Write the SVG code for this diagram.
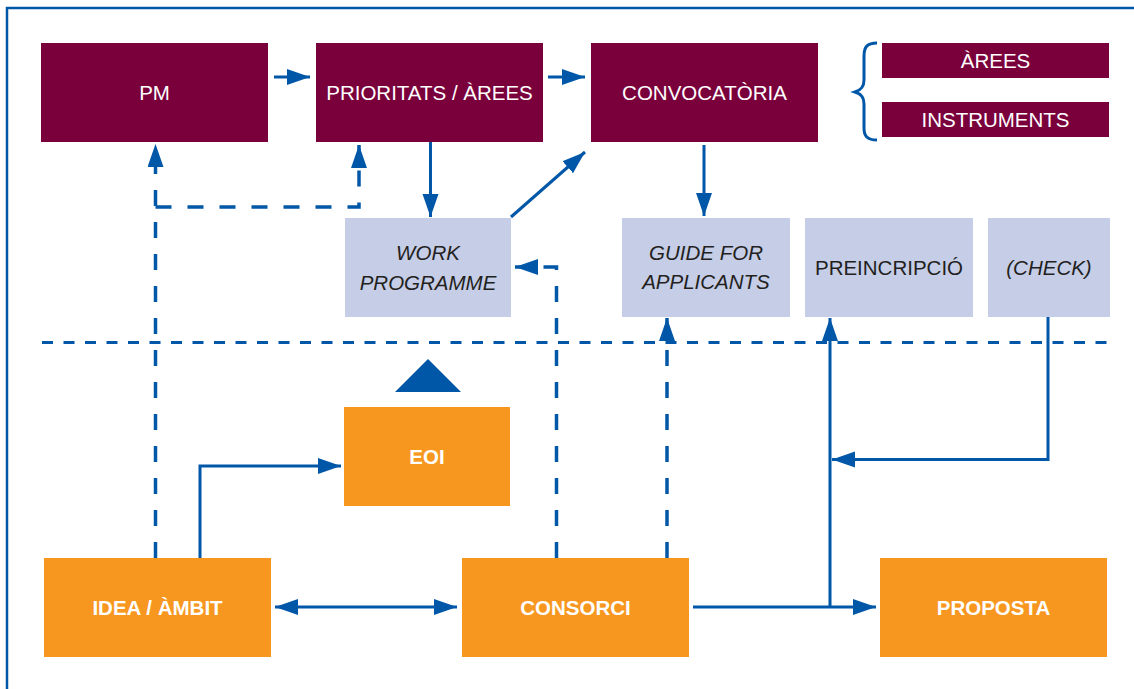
<svg xmlns="http://www.w3.org/2000/svg" width="1134" height="689" viewBox="0 0 1134 689">
  <style>
    .maroon { fill: #7a003c; }
    .lilac { fill: #c5cde7; }
    .orange { fill: #f7971f; }
    .wt { fill: #ffffff; font-family: "Liberation Sans", Arial, sans-serif; font-size: 20.5px; text-anchor: middle; }
    .bd { font-weight: bold; }
    .dk { fill: #231f20; font-family: "Liberation Sans", Arial, sans-serif; font-size: 20.5px; text-anchor: middle; }
    .it { font-style: italic; }
    .ln { fill: none; stroke: #0057a8; stroke-width: 3; }
    .dash { stroke-width: 3.5; stroke-dasharray: 16 16; }
    .divider { fill: none; stroke: #0057a8; stroke-width: 3; stroke-dasharray: 11 10.5; }
    .head { fill: #0057a8; }
  </style>
  <defs>
    <marker id="arr" markerWidth="24" markerHeight="18" refX="23" refY="8" orient="auto" markerUnits="userSpaceOnUse">
      <path d="M0,0 L23,8 L0,16 Z" class="head"/>
    </marker>
    <marker id="arrStart" markerWidth="24" markerHeight="18" refX="23" refY="8" orient="auto-start-reverse" markerUnits="userSpaceOnUse">
      <path d="M0,0 L23,8 L0,16 Z" class="head"/>
    </marker>
  </defs>

  <rect width="1134" height="689" fill="#ffffff"/>

  <!-- frame -->
  <path d="M7,690 V8 H1134" fill="none" stroke="#0057a8" stroke-width="2.5"/>

  <!-- divider between the two levels -->
  <line x1="42" y1="342.5" x2="1110" y2="342.5" class="divider"/>

  <!-- up triangle -->
  <path d="M395,392 L428,359 L461,392 Z" class="head"/>

  <!-- brace -->
  <path d="M877,43 C867,43 864,47 864,56 V80 C864,87 861,90 855,92 C861,94 864,97 864,104 V128 C864,136 867,140 877,140" fill="none" stroke="#0057a8" stroke-width="3"/>

  <g id="pm">
    <rect x="41" y="43" width="227" height="99" class="maroon"/>
    <text x="154.5" y="99.5" class="wt">PM</text>
  </g>
  <g id="prioritats">
    <rect x="316" y="43" width="227" height="99" class="maroon"/>
    <text x="429.5" y="99.5" class="wt">PRIORITATS / ÀREES</text>
  </g>
  <g id="convocatoria">
    <rect x="591" y="43" width="227" height="99" class="maroon"/>
    <text x="704.5" y="99.5" class="wt">CONVOCATÒRIA</text>
  </g>
  <g id="arees">
    <rect x="882" y="43" width="227" height="35" class="maroon"/>
    <text x="995.5" y="68" class="wt">ÀREES</text>
  </g>
  <g id="instruments">
    <rect x="882" y="102" width="227" height="35" class="maroon"/>
    <text x="995.5" y="127" class="wt">INSTRUMENTS</text>
  </g>

  <g id="work-programme">
    <rect x="345" y="218" width="166" height="99" class="lilac"/>
    <text x="428" y="260" class="dk it">WORK</text>
    <text x="428" y="290" class="dk it">PROGRAMME</text>
  </g>
  <g id="guide">
    <rect x="622" y="218" width="168" height="99" class="lilac"/>
    <text x="706" y="260" class="dk it">GUIDE FOR</text>
    <text x="706" y="289" class="dk it">APPLICANTS</text>
  </g>
  <g id="preincripcio">
    <rect x="805" y="218" width="168" height="99" class="lilac"/>
    <text x="889" y="274.5" class="dk">PREINCRIPCIÓ</text>
  </g>
  <g id="check">
    <rect x="988" y="218" width="122" height="99" class="lilac"/>
    <text x="1049" y="274.5" class="dk it">(CHECK)</text>
  </g>

  <g id="eoi">
    <rect x="344" y="407" width="166" height="99" class="orange"/>
    <text x="427" y="463.5" class="wt bd">EOI</text>
  </g>
  <g id="idea">
    <rect x="44" y="558" width="227" height="99" class="orange"/>
    <text x="157.5" y="614.5" class="wt bd">IDEA / ÀMBIT</text>
  </g>
  <g id="consorci">
    <rect x="462" y="558" width="227" height="99" class="orange"/>
    <text x="575.5" y="614.5" class="wt bd">CONSORCI</text>
  </g>
  <g id="proposta">
    <rect x="880" y="558" width="227" height="99" class="orange"/>
    <text x="993.5" y="614.5" class="wt bd">PROPOSTA</text>
  </g>

  <g id="connectors">
    <!-- top row -->
    <line x1="274" y1="77" x2="310" y2="77" class="ln" marker-end="url(#arr)"/>
    <line x1="548" y1="77" x2="585" y2="77" class="ln" marker-end="url(#arr)"/>
    <line x1="430.5" y1="142" x2="430.5" y2="217" class="ln" marker-end="url(#arr)"/>
    <line x1="511" y1="217" x2="585" y2="152" class="ln" marker-end="url(#arr)"/>
    <line x1="704" y1="145" x2="704" y2="216" class="ln" marker-end="url(#arr)"/>

    <!-- dashed feedback from IDEA / ÀMBIT -->
    <path d="M155.5,558 V144" class="ln dash" marker-end="url(#arr)"/>
    <path d="M155.5,207 H359 V145" class="ln dash" marker-end="url(#arr)"/>

    <!-- dashed feedback from CONSORCI -->
    <path d="M556.5,558 V267 H515" class="ln dash" marker-end="url(#arr)"/>
    <path d="M667,558 V318" class="ln dash" marker-end="url(#arr)"/>

    <!-- IDEA to EOI -->
    <path d="M200,558 V466 H341" class="ln" marker-end="url(#arr)"/>

    <!-- IDEA <-> CONSORCI -->
    <line x1="275" y1="607" x2="457" y2="607" class="ln" marker-start="url(#arrStart)" marker-end="url(#arr)"/>

    <!-- CONSORCI to PROPOSTA, branch to PREINCRIPCIÓ -->
    <line x1="693" y1="607" x2="876" y2="607" class="ln" marker-end="url(#arr)"/>
    <path d="M830,608 V318" class="ln" marker-end="url(#arr)"/>

    <!-- (CHECK) back to the branch -->
    <path d="M1048,317 V459.5 H832" class="ln" marker-end="url(#arr)"/>
  </g>
</svg>
